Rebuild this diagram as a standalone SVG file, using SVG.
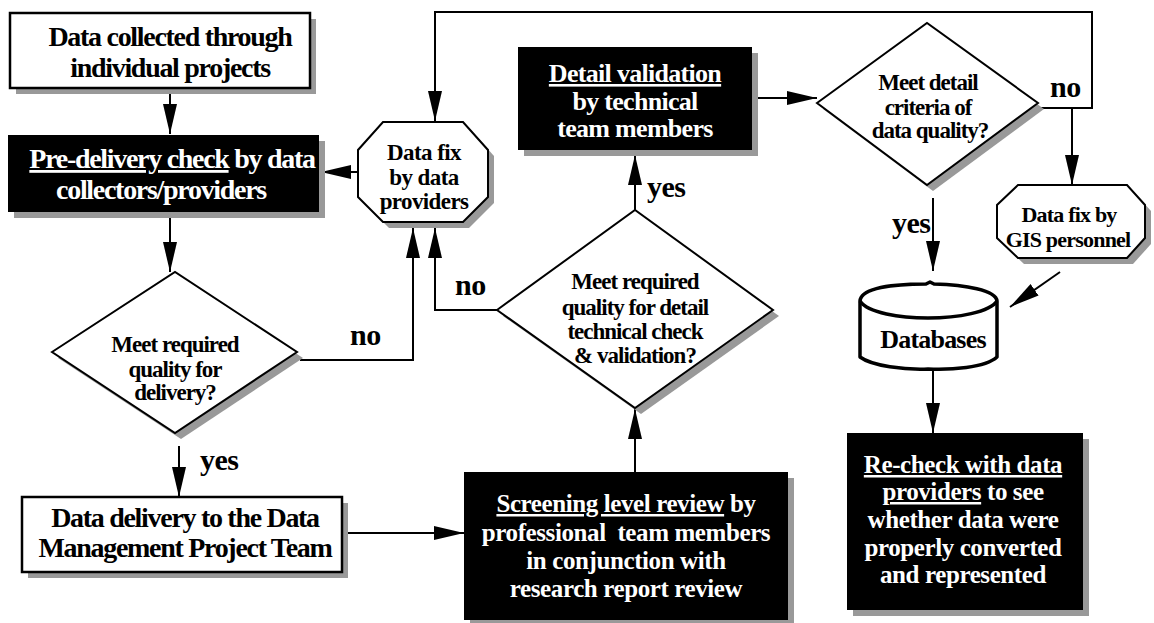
<svg xmlns="http://www.w3.org/2000/svg" width="1154" height="623" viewBox="0 0 1154 623">
<style>
.box{fill:#fff;stroke:#000;stroke-width:2.5}
.dark{fill:#000}
.sh{fill:#999}
.dia{fill:#fff;stroke:#000;stroke-width:2}
.con{fill:none;stroke:#000;stroke-width:2}
.t{font-family:"Liberation Serif",serif;font-weight:bold;fill:#000}
.big{font-size:28px;letter-spacing:-1.3px}
.mid{font-size:25px;letter-spacing:-0.4px}
.sm{font-size:23px;letter-spacing:-1px}
.lbl{font-size:30px;letter-spacing:-0.5px}
.w{fill:#fff}
.c{text-anchor:middle}
.u{text-decoration:underline}
</style>
<defs>
<marker id="ah" markerUnits="userSpaceOnUse" markerWidth="32" markerHeight="16" refX="30" refY="7.5" orient="auto">
<path d="M0,0.5 L30,7.5 L0,14.5 z" fill="#000"/>
</marker>
</defs>
<rect width="1154" height="623" fill="#fff"/>

<g id="connectors">
<path class="con" d="M170,88 V134" marker-end="url(#ah)"/>
<path class="con" d="M170,213 V272" marker-end="url(#ah)"/>
<path class="con" d="M179,446 V497" marker-end="url(#ah)"/>
<path class="con" d="M300,360 H413 V228" marker-end="url(#ah)"/>
<path class="con" d="M497,310 H435 V228" marker-end="url(#ah)"/>
<path class="con" d="M358,172 H321" marker-end="url(#ah)"/>
<path class="con" d="M342,533 H464" marker-end="url(#ah)"/>
<path class="con" d="M635,472 V409" marker-end="url(#ah)"/>
<path class="con" d="M635,210 V155" marker-end="url(#ah)"/>
<path class="con" d="M752,98 H817" marker-end="url(#ah)"/>
<path class="con" d="M1038,108 H1092 V12 H435 V121" marker-end="url(#ah)"/>
<path class="con" d="M1072,108 V185" marker-end="url(#ah)"/>
<path class="con" d="M933,198 V271" marker-end="url(#ah)"/>
<path class="con" d="M1060,272 L1010,307" marker-end="url(#ah)"/>
<path class="con" d="M933,370 V433" marker-end="url(#ah)"/>
</g>

<g id="labels">
<text class="t lbl" x="350" y="345">no</text>
<text class="t lbl" x="455" y="295">no</text>
<text class="t lbl" x="200" y="470">yes</text>
<text class="t lbl" x="647" y="197">yes</text>
<text class="t lbl" x="1050" y="97">no</text>
<text class="t lbl" x="892" y="233">yes</text>
</g>

<g id="n-collected">
<rect class="sh" x="16" y="19" width="300" height="75"/>
<rect class="box" x="10" y="13" width="300" height="75"/>
<text class="t big c" x="170" y="46">Data collected through</text>
<text class="t big c" x="170" y="77">individual projects</text>
</g>

<g id="n-predelivery">
<rect class="sh" x="14" y="141" width="311" height="77"/>
<rect class="dark" x="8" y="135" width="311" height="77"/>
<text class="t big c w" x="172" y="168"><tspan class="u">Pre-delivery check</tspan> by data</text>
<text class="t big c w" x="161" y="199">collectors/providers</text>
</g>

<g id="n-quality-delivery">
<polygon class="sh" points="58,358 181,278 303,358 181,439"/>
<polygon class="dia" points="52,352 175,272 297,352 175,433"/>
<text class="t sm c" x="175" y="352">Meet required</text>
<text class="t sm c" x="175" y="377">quality for</text>
<text class="t sm c" x="175" y="400">delivery?</text>
</g>

<g id="n-delivery">
<rect class="sh" x="28" y="503" width="320" height="75"/>
<rect class="box" x="22" y="497" width="320" height="75"/>
<text class="t big c" x="185" y="527">Data delivery to the Data</text>
<text class="t big c" x="185" y="557">Management Project Team</text>
</g>

<g id="n-fix-providers">
<polygon class="sh" points="389,128 469,128 494,156 494,203 469,228 389,228 364,203 364,156"/>
<polygon class="dia" points="383,122 463,122 488,150 488,197 463,222 383,222 358,197 358,150"/>
<text class="t sm c" x="424" y="160" style="letter-spacing:-0.6px">Data fix</text>
<text class="t sm c" x="424" y="185" style="letter-spacing:-0.6px">by data</text>
<text class="t sm c" x="424" y="209" style="letter-spacing:-0.6px">providers</text>
</g>

<g id="n-screening">
<rect class="sh" x="470" y="478" width="324" height="148"/>
<rect class="dark" x="464" y="472" width="324" height="148"/>
<text class="t mid c w" x="626" y="512"><tspan class="u">Screening level review</tspan> by</text>
<text class="t mid c w" x="626" y="541" style="white-space:pre">professional  team members</text>
<text class="t mid c w" x="626" y="569">in conjunction with</text>
<text class="t mid c w" x="626" y="597">research report review</text>
</g>

<g id="n-quality-detail">
<polygon class="sh" points="503,316 641,216 779,316 641,414"/>
<polygon class="dia" points="497,310 635,210 773,310 635,408"/>
<text class="t sm c" x="635" y="289">Meet required</text>
<text class="t sm c" x="635" y="315">quality for detail</text>
<text class="t sm c" x="635" y="339">technical check</text>
<text class="t sm c" x="635" y="363">&amp; validation?</text>
</g>

<g id="n-detail-validation">
<rect class="sh" x="524" y="53" width="234" height="103"/>
<rect class="dark" x="518" y="47" width="234" height="103"/>
<text class="t c w" x="635" y="82" style="font-size:26px;letter-spacing:-0.7px"><tspan class="u">Detail validation</tspan></text>
<text class="t c w" x="635" y="110" style="font-size:26px;letter-spacing:-0.7px">by technical</text>
<text class="t c w" x="635" y="137" style="font-size:26px;letter-spacing:-0.7px">team members</text>
</g>

<g id="n-detail-criteria">
<polygon class="sh" points="823,109 933,29 1044,109 933,191"/>
<polygon class="dia" points="817,103 927,23 1038,103 927,185"/>
<text class="t sm c" x="928" y="90">Meet detail</text>
<text class="t sm c" x="928" y="115">criteria of</text>
<text class="t sm c" x="930" y="138">data quality?</text>
</g>

<g id="n-fix-gis">
<polygon class="sh" points="1024,191 1133,191 1151,211 1151,244 1133,264 1024,264 1003,244 1003,211"/>
<polygon class="dia" points="1018,185 1127,185 1145,205 1145,238 1127,258 1018,258 997,238 997,205"/>
<text class="t c" x="1069" y="222" style="font-size:22px;letter-spacing:-0.8px">Data fix by</text>
<text class="t c" x="1068" y="247" style="font-size:22px;letter-spacing:-0.8px">GIS personnel</text>
</g>

<g id="n-databases">
<path d="M860,301 C861,288 893,284 926,284 L930,282 L934,284 C965,285 996,290 997,301 L997,357 C985,368 950,370 928,369 C905,370 872,366 860,357 Z" fill="#fff" stroke="#000" stroke-width="3.5" stroke-linejoin="round"/>
<path d="M860,301 C868,313 900,318 928,318 C958,318 990,312 997,301" fill="none" stroke="#000" stroke-width="3.5"/>
<text class="t c" x="933" y="348" style="font-size:26px;letter-spacing:-0.8px">Databases</text>
</g>

<g id="n-recheck">
<rect class="sh" x="853" y="439" width="236" height="177"/>
<rect class="dark" x="847" y="433" width="236" height="177"/>
<text class="t mid c w" x="963" y="473"><tspan class="u">Re-check with data</tspan></text>
<text class="t mid c w" x="963" y="500"><tspan class="u">providers</tspan> to see</text>
<text class="t mid c w" x="963" y="528">whether data were</text>
<text class="t mid c w" x="963" y="556">properly converted</text>
<text class="t mid c w" x="963" y="583">and represented</text>
</g>
</svg>
